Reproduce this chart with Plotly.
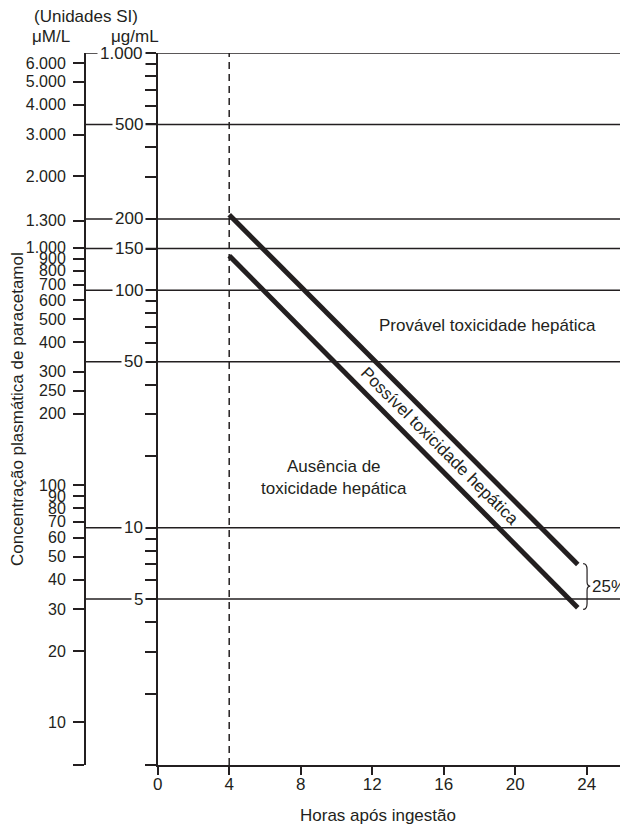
import math
import plotly.graph_objects as go

# ---------------- data ----------------
hour_ticks = [0, 4, 8, 12, 16, 20, 24]

ug_ticks = [1000, 900, 800, 700, 600, 500, 400, 300, 200, 150,
            100, 90, 80, 70, 60, 50, 40, 30, 20,
            10, 9, 8, 7, 6, 5, 4, 3, 2, 1]
ug_grid_values = [1000, 500, 200, 150, 100, 50, 10, 5]
ug_grid_labels = ["1.000", "500", "200", "150", "100", "50", "10", "5"]

um_ticks = [6000, 5000, 4000, 3000, 2000, 1300, 1000, 900, 800, 700, 600,
            500, 400, 300, 250, 200, 100, 90, 80, 70, 60, 50, 40, 30, 20, 10]
um_labels = ["6.000", "5.000", "4.000", "3.000", "2.000", "1.300", "1.000",
             "900", "800", "700", "600", "500", "400", "300", "250", "200",
             "100", "90", "80", "70", "60", "50", "40", "30", "20", "10"]
UM_PER_UG = 6.615  # 1 µg/mL paracetamol = 6.615 µM/L

line_hours = [4, 23.5]
upper_line = [208, 7.0]   # µg/mL
lower_line = [140, 4.6]   # µg/mL

start_hour = 4

# ---------------- style / geometry ----------------
INK = "#231f20"
FONT = "Liberation Sans, Arial, Helvetica, sans-serif"
OFF = 8                          # default body margin of the page
W, H = 628 - OFF, 827 - OFF      # figure reaches the window's right/bottom edges
ML = 85 - OFF                    # µM/L axis at screen x = 85
MT = 53 - OFF                    # top of plot at screen y = 53
MB = H - (765 - OFF)             # bottom of plot at screen y = 765
MR = 0
PW = W - ML - MR
PH = H - MT - MB
X_AXIS_PX = 157.7                # screen x of the µg/mL axis / hour 0


def px_to_paper_x(px):
    return (px - OFF - ML) / PW


def px_to_paper_y(py):
    return (H - MB - (py - OFF)) / PH


def txt(**kw):
    d = dict(showarrow=False, xanchor="center", yanchor="middle",
             font=dict(family=FONT, size=17, color=INK))
    d.update(kw)
    return d


fig = go.Figure()

# nomogram lines
for vals in (upper_line, lower_line):
    fig.add_trace(go.Scatter(
        x=line_hours, y=vals, mode="lines",
        line=dict(color=INK, width=5),
        hoverinfo="skip", showlegend=False))

# invisible trace to activate the µM/L axis
fig.add_trace(go.Scatter(
    x=[0], y=[100], yaxis="y2", mode="markers",
    marker=dict(opacity=0), hoverinfo="skip", showlegend=False))

shapes = []
# horizontal reference lines from µM axis to the right edge
for v in ug_grid_values:
    shapes.append(dict(type="line", xref="paper", yref="y",
                       x0=0, x1=1, y0=v, y1=v, layer="below",
                       line=dict(color=INK, width=1.5)))
# dashed 4-hour line
shapes.append(dict(type="line", xref="x", yref="y domain",
                   x0=start_hour, x1=start_hour, y0=0, y1=1, layer="below",
                   line=dict(color=INK, width=1.5, dash="7px,5px")))

# brace spanning the two line ends (25%)
ly_top = math.log10(upper_line[-1])
ly_bot = math.log10(lower_line[-1])


def yf(f):
    return 10 ** (ly_top + f * (ly_bot - ly_top))


xe = line_hours[-1]
xl, xm, xt = xe + 0.30, xe + 0.52, xe + 0.70
path = (f"M {xl},{yf(-0.02)} Q {xm},{yf(-0.02)} {xm},{yf(0.12)} "
        f"L {xm},{yf(0.40)} Q {xm},{yf(0.5)} {xt},{yf(0.5)} "
        f"Q {xm},{yf(0.5)} {xm},{yf(0.60)} "
        f"L {xm},{yf(0.90)} Q {xm},{yf(1.04)} {xl},{yf(1.04)}")
shapes.append(dict(type="path", xref="x", yref="y", path=path,
                   line=dict(color=INK, width=1.2)))

annotations = []
# µg/mL labels sitting on the reference lines
for v, t in zip(ug_grid_values, ug_grid_labels):
    annotations.append(txt(
        xref="paper", yref="y", x=px_to_paper_x(146), y=math.log10(v),
        xanchor="right", text=t, bgcolor="white", borderpad=2))

# header / axis texts
annotations += [
    txt(xref="paper", yref="paper", x=px_to_paper_x(86), y=px_to_paper_y(17),
        text="(Unidades SI)"),
    txt(xref="paper", yref="paper", x=px_to_paper_x(51), y=px_to_paper_y(37),
        text="μM/L"),
    txt(xref="paper", yref="paper", x=px_to_paper_x(135), y=px_to_paper_y(37),
        text="μg/mL"),
    txt(xref="paper", yref="paper", x=px_to_paper_x(17), y=px_to_paper_y(409),
        text="Concentração plasmática de paracetamol", textangle=-90),
    txt(xref="paper", yref="paper", x=px_to_paper_x(378), y=px_to_paper_y(815),
        text="Horas após ingestão"),
    # region labels
    txt(xref="x", yref="y", x=18.45, y=math.log10(71.4),
        text="Provável toxicidade hepática"),
    txt(xref="x", yref="y", x=9.84, y=math.log10(16.3),
        text="Ausência de<br>toxicidade hepática"),
    txt(xref="x", yref="y", x=15.79, y=math.log10(22.0),
        text="Possível toxicidade hepática", textangle=45),
    txt(xref="x", yref="y", x=xt, y=math.log10(yf(0.5)),
        xanchor="left", text="25%"),
]

x_lo = px_to_paper_x(X_AXIS_PX)
x_max = (628 - X_AXIS_PX) / 17.875

fig.update_layout(
    template="none",
    width=W, height=H,
    margin=dict(l=ML, r=MR, t=MT, b=MB, pad=0, autoexpand=False),
    paper_bgcolor="white", plot_bgcolor="white",
    showlegend=False,
    font=dict(family=FONT, size=16, color=INK),
    xaxis=dict(
        domain=[x_lo, 1], range=[0, x_max], tickvals=hour_ticks,
        ticktext=[str(h) for h in hour_ticks],
        showgrid=False, zeroline=False, showline=True, linewidth=2,
        linecolor=INK, ticks="outside", ticklen=8, tickwidth=1.5,
        tickcolor=INK, ticklabelstandoff=-5,
        tickfont=dict(family=FONT, size=17, color=INK),
        automargin=False, fixedrange=True),
    yaxis=dict(
        type="log", range=[0, 3], tickvals=ug_ticks,
        ticktext=[""] * len(ug_ticks),
        showgrid=False, zeroline=False, showline=True, linewidth=2,
        linecolor=INK, ticks="outside", ticklen=11, tickwidth=1.5,
        tickcolor=INK, automargin=False, fixedrange=True),
    yaxis2=dict(
        type="log", overlaying="y", anchor="free", position=0, side="left",
        range=[math.log10(UM_PER_UG), math.log10(1000 * UM_PER_UG)],
        tickvals=um_ticks + [UM_PER_UG], ticktext=um_labels + [""],
        showgrid=False, zeroline=False, showline=True, linewidth=2,
        linecolor=INK, ticks="outside", ticklen=11, tickwidth=1.5,
        tickcolor=INK, ticklabelstandoff=4,
        tickfont=dict(family=FONT, size=16, color=INK),
        automargin=False, fixedrange=True),
    shapes=shapes,
    annotations=annotations,
)

fig.write_html("out.html")
